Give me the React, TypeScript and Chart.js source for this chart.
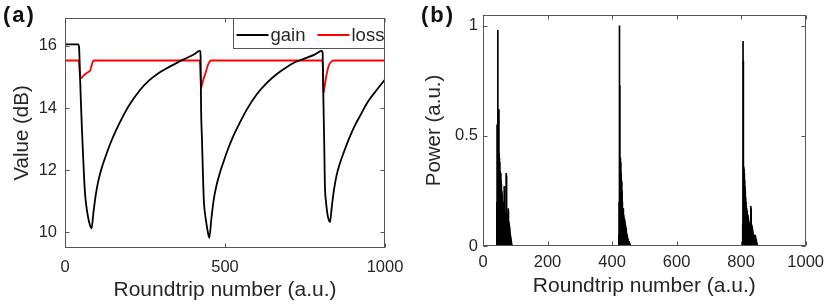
import React, { useEffect, useRef } from 'react';
import { Chart, registerables } from 'chart.js';

Chart.register(...registerables);

// ---------- Panel (a): gain / loss dynamics ----------
const roundtripTicksA = [0, 500, 1000];
const valueTicks = [10, 12, 14, 16];

const gainX = [
  0, 20, 41, 44, 47, 50, 53, 56, 59, 63, 68, 75, 83,
  89, 96, 104, 114, 127, 142, 158, 177, 200, 232, 262, 292, 322, 352, 382, 405, 420,
  423, 424, 425, 428, 431, 434, 437, 441, 446, 451,
  457, 464, 472, 482, 495, 510, 526, 545, 568, 600, 630, 660, 690, 720, 750, 780, 802,
  805, 806, 808, 810, 812, 816, 820, 824, 828,
  834, 841, 849, 859, 872, 887, 903, 922, 945, 977, 1000,
];
const gainY = [
  16.05, 16.05, 16.05, 15.95, 15.0, 14.1, 13.3, 12.6, 11.9, 11.2, 10.75, 10.35, 10.13,
  10.65, 11.2, 11.65, 12.05, 12.45, 12.87, 13.25, 13.65, 14.08, 14.55, 14.88, 15.12, 15.3, 15.47, 15.62, 15.74, 15.84,
  15.83, 15.5, 14.2, 13.0, 11.9, 11.0, 10.65, 10.35, 10.03, 9.83,
  10.4, 11.0, 11.45, 11.85, 12.26, 12.7, 13.1, 13.5, 13.95, 14.45, 14.8, 15.08, 15.3, 15.48, 15.6, 15.72, 15.84,
  15.8, 15.2, 14.0, 12.9, 11.6, 10.95, 10.6, 10.42, 10.33,
  10.85, 11.4, 11.85, 12.22, 12.6, 13.0, 13.38, 13.75, 14.18, 14.62, 14.92,
];

const lossX = [
  0, 42, 44, 46, 49, 52, 56, 62, 68, 73, 78, 81, 84, 87, 92,
  420, 422, 424, 425, 428, 432, 436, 440, 444, 448, 452, 456,
  804, 806, 807, 808, 810, 813, 816, 820, 823, 827, 833, 840, 1000,
];
const lossY = [
  15.53, 15.53, 15.45, 15.15, 14.98, 14.97, 15.03, 15.08, 15.13, 15.16, 15.2, 15.28, 15.4, 15.5, 15.53,
  15.53, 15.4, 14.9, 14.63, 14.75, 14.9, 15.03, 15.16, 15.3, 15.42, 15.49, 15.53,
  15.53, 15.3, 14.8, 14.48, 14.6, 14.8, 15.0, 15.2, 15.32, 15.42, 15.5, 15.53, 15.53,
];

// ---------- Panel (b): output power per roundtrip ----------
const roundtripTicksB = [0, 200, 400, 600, 800, 1000];
const powerTicks = [0, 0.5, 1];

const burstStarts = [43, 421, 805];
const burst1 = [
  0.2, 0.55, 0.55, 0.98, 0.5, 0.62, 0.62, 0.42, 0.4, 0.38, 0.34, 0.33, 0.33, 0.3, 0.28, 0.25,
  0.24, 0.22, 0.2, 0.19, 0.18, 0.16, 0.2, 0.27, 0.27, 0.15, 0.14, 0.15, 0.13, 0.33, 0.32, 0.14,
  0.14, 0.13, 0.14, 0.17, 0.16, 0.11, 0.1, 0.09, 0.08, 0.06, 0.05, 0.04, 0.03, 0.02, 0.01,
];
const burst2 = [
  0.05, 0.2, 1.0, 0.73, 0.4, 0.4, 0.38, 0.33, 0.3, 0.29, 0.25, 0.2, 0.17, 0.16, 0.17, 0.14,
  0.13, 0.12, 0.12, 0.11, 0.1, 0.09, 0.08, 0.08, 0.06, 0.05, 0.05, 0.04, 0.03, 0.03, 0.02, 0.02,
  0.02, 0.01, 0.01, 0.01,
];
const burst3 = [
  0.1, 0.93, 0.84, 0.36, 0.35, 0.33, 0.3, 0.27, 0.25, 0.22, 0.2, 0.18, 0.17, 0.15, 0.16, 0.14,
  0.14, 0.13, 0.12, 0.11, 0.1, 0.1, 0.09, 0.09, 0.08, 0.18, 0.17, 0.1, 0.09, 0.09, 0.08, 0.07,
  0.06, 0.05, 0.05, 0.05, 0.04, 0.04, 0.04, 0.05, 0.04, 0.03, 0.03, 0.02, 0.01, 0.01,
];

const FONT = "'Liberation Sans', Arial, sans-serif";
const TEXT = '#262626';
const FRAME = '#555555';

const framePlugin = {
  id: 'matlabFrame',
  afterDatasetsDraw(chart: any, _args: any, opts: any) {
    const { ctx, chartArea, scales } = chart;
    const { left, right, top, bottom } = chartArea;
    const L = Math.round(left) + 0.5;
    const R = Math.round(right) - 0.5;
    const T = Math.round(top) + 0.5;
    const B = Math.round(bottom) - 0.5;
    ctx.save();
    ctx.strokeStyle = FRAME;
    ctx.lineWidth = 1;
    ctx.strokeRect(L, T, R - L, B - T);
    const tl = 4;
    ctx.beginPath();
    scales.x.ticks.forEach((t: any) => {
      const px = Math.round(scales.x.getPixelForValue(t.value)) + 0.5;
      ctx.moveTo(px, B); ctx.lineTo(px, B - tl);
      ctx.moveTo(px, T); ctx.lineTo(px, T + tl);
    });
    scales.y.ticks.forEach((t: any) => {
      const py = Math.round(scales.y.getPixelForValue(t.value)) + 0.5;
      ctx.moveTo(L, py); ctx.lineTo(L + tl, py);
      ctx.moveTo(R, py); ctx.lineTo(R - tl, py);
    });
    ctx.stroke();

    if (opts && opts.legend) {
      const lg = opts.legend;
      const bx = Math.round(right - lg.width) + 0.5;
      const by = Math.round(top) + 0.5;
      ctx.fillStyle = '#ffffff';
      ctx.fillRect(bx, by, lg.width, lg.height);
      ctx.strokeStyle = FRAME;
      ctx.strokeRect(bx, by, lg.width - 1, lg.height);
      ctx.font = `${lg.fontSize}px ${FONT}`;
      ctx.textBaseline = 'alphabetic';
      ctx.textAlign = 'left';
      let x = bx + 3;
      chart.data.datasets.forEach((ds: any) => {
        ctx.strokeStyle = ds.borderColor;
        ctx.lineWidth = 1.8;
        ctx.beginPath();
        ctx.moveTo(x, by + lg.lineY);
        ctx.lineTo(x + lg.sample, by + lg.lineY);
        ctx.stroke();
        x += lg.sample + 2;
        ctx.fillStyle = TEXT;
        ctx.fillText(ds.label, x, by + lg.baseY);
        x += ctx.measureText(ds.label).width + 12;
      });
    }
    ctx.restore();
  },
};

function fixedTicks(values: number[]) {
  return (scale: any) => {
    scale.ticks = values.map((v) => ({ value: v }));
  };
}

function PanelA() {
  const ref = useRef<HTMLCanvasElement>(null);
  useEffect(() => {
    const chart = new Chart(ref.current as HTMLCanvasElement, {
      type: 'line',
      data: {
        datasets: [
          {
            label: 'gain',
            data: gainX.map((x, i) => ({ x, y: gainY[i] })),
            borderColor: '#000000',
            borderWidth: 1.8,
            pointRadius: 0,
            cubicInterpolationMode: 'monotone',
          },
          {
            label: 'loss',
            data: lossX.map((x, i) => ({ x, y: lossY[i] })),
            borderColor: '#ff0000',
            borderWidth: 1.8,
            pointRadius: 0,
            cubicInterpolationMode: 'monotone',
          },
        ],
      },
      options: {
        responsive: false,
        animation: false,
        layout: { padding: { left: 0, top: 13, right: 30, bottom: 0 } },
        plugins: {
          legend: { display: false },
          tooltip: { enabled: false },
          matlabFrame: {
            legend: { width: 152, height: 30, sample: 32, lineY: 16.5, baseY: 22, fontSize: 18.5 },
          },
        } as any,
        scales: {
          x: {
            type: 'linear',
            min: 0,
            max: 1000,
            afterBuildTicks: fixedTicks(roundtripTicksA),
            afterFit: (s: any) => { s.height = 59; },
            grid: { display: false, drawTicks: false },
            border: { display: false },
            ticks: {
              padding: 10,
              color: TEXT,
              font: { size: 16.5, family: FONT },
              maxRotation: 0,
              autoSkip: false,
              callback: (v: any) => String(v),
            },
            title: {
              display: true,
              text: 'Roundtrip number (a.u.)',
              color: TEXT,
              font: { size: 21, family: FONT },
              padding: { top: 0, bottom: 4 },
            },
          },
          y: {
            type: 'linear',
            min: 9.5,
            max: 16.9,
            afterBuildTicks: fixedTicks(valueTicks),
            afterFit: (s: any) => { s.width = 65; },
            grid: { display: false, drawTicks: false },
            border: { display: false },
            ticks: {
              padding: 8,
              color: TEXT,
              font: { size: 16.5, family: FONT },
              callback: (v: any) => String(v),
            },
            title: {
              display: true,
              text: 'Value (dB)',
              color: TEXT,
              font: { size: 20.5, family: FONT },
              padding: { top: 10, bottom: 0 },
            },
          },
        },
      },
      plugins: [framePlugin],
    } as any);
    return () => chart.destroy();
  }, []);
  return (
    <canvas
      ref={ref}
      width={415}
      height={307}
      style={{ position: 'fixed', left: 0, top: 0, width: 415, height: 307 }}
    />
  );
}

function PanelB() {
  const ref = useRef<HTMLCanvasElement>(null);
  useEffect(() => {
    const bursts = [burst1, burst2, burst3];
    const points: { x: number; y: number }[] = [];
    bursts.forEach((b, k) => b.forEach((p, i) => points.push({ x: burstStarts[k] + i, y: p })));
    const chart = new Chart(ref.current as HTMLCanvasElement, {
      type: 'bar',
      data: {
        datasets: [
          {
            label: 'Power',
            data: points,
            backgroundColor: '#000000',
            borderWidth: 0,
            barThickness: 1,
          },
        ],
      },
      options: {
        responsive: false,
        animation: false,
        layout: { padding: { left: 0, top: 9, right: 20, bottom: 0 } },
        plugins: {
          legend: { display: false },
          tooltip: { enabled: false },
        },
        scales: {
          x: {
            type: 'linear',
            min: 0,
            max: 1000,
            offset: false,
            afterBuildTicks: fixedTicks(roundtripTicksB),
            afterFit: (s: any) => { s.height = 61; },
            grid: { display: false, drawTicks: false },
            border: { display: false },
            ticks: {
              padding: 7,
              color: TEXT,
              font: { size: 16.5, family: FONT },
              maxRotation: 0,
              autoSkip: false,
              callback: (v: any) => String(v),
            },
            title: {
              display: true,
              text: 'Roundtrip number (a.u.)',
              color: TEXT,
              font: { size: 21, family: FONT },
              padding: { top: 0, bottom: 8 },
            },
          },
          y: {
            type: 'linear',
            min: 0,
            max: 1.05,
            afterBuildTicks: fixedTicks(powerTicks),
            afterFit: (s: any) => { s.width = 68; },
            grid: { display: false, drawTicks: false },
            border: { display: false },
            ticks: {
              padding: 5,
              color: TEXT,
              font: { size: 16.5, family: FONT },
              callback: (v: any) => String(v),
            },
            title: {
              display: true,
              text: 'Power (a.u.)',
              color: TEXT,
              font: { size: 20.5, family: FONT },
              padding: { top: 7, bottom: 0 },
            },
          },
        },
      },
      plugins: [framePlugin],
    } as any);
    return () => chart.destroy();
  }, []);
  return (
    <canvas
      ref={ref}
      width={416}
      height={307}
      style={{ position: 'fixed', left: 415, top: 0, width: 416, height: 307 }}
    />
  );
}

const labelStyle: React.CSSProperties = {
  position: 'fixed',
  top: 4,
  fontFamily: FONT,
  fontWeight: 'bold',
  fontSize: 22,
  lineHeight: '22px',
  letterSpacing: 2,
  color: '#111',
};

export default function App() {
  return (
    <div style={{ width: 831, height: 307, position: 'relative' }}>
      <PanelA />
      <PanelB />
      <div style={{ ...labelStyle, left: 3 }}>(a)</div>
      <div style={{ ...labelStyle, left: 421 }}>(b)</div>
    </div>
  );
}
